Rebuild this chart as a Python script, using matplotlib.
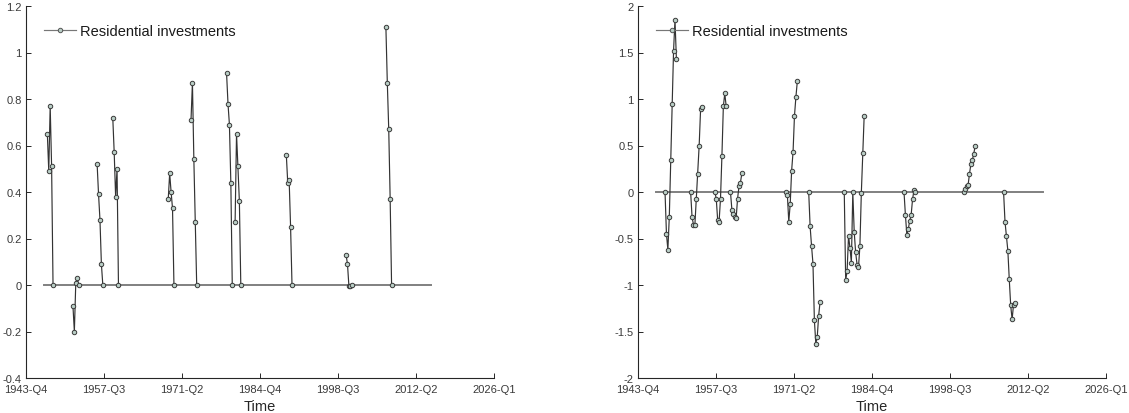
import numpy as np
import matplotlib
matplotlib.use("Agg")
import matplotlib.pyplot as plt

plt.rcParams['font.family'] = ['Liberation Sans', 'DejaVu Sans']

# ---------------- data ----------------
series_name = "Residential investments"
xtick_labels = ["1943-Q4", "1957-Q3", "1971-Q2", "1984-Q4", "1998-Q3", "2012-Q2", "2026-Q1"]
x_start, x_end = 1943.75, 2026.0          # 1943-Q4 .. 2026-Q1
zero_start, zero_end = 1947.0, 2015.0     # sample covered by the zero line

# left panel: episodes (start quarter as decimal year, values)
left_starts = [1947.5, 1952.0, 1956.25, 1959.0, 1968.75, 1972.75,
               1979.0, 1980.5, 1989.5, 2000.0, 2007.0]
left_values = [
    [0.65, 0.49, 0.77, 0.51, 0.0],
    [-0.09, -0.20, 0.01, 0.03, 0.0],
    [0.52, 0.39, 0.28, 0.09, 0.0],
    [0.72, 0.57, 0.38, 0.50, 0.0],
    [0.37, 0.48, 0.40, 0.33, 0.0],
    [0.71, 0.87, 0.54, 0.27, 0.0],
    [0.91, 0.78, 0.69, 0.44, 0.0],
    [0.27, 0.65, 0.51, 0.36, 0.0],
    [0.56, 0.44, 0.45, 0.25, 0.0],
    [0.13, 0.09, -0.005, -0.004, 0.0],
    [1.11, 0.87, 0.67, 0.37, 0.0],
]
left_yticks = [-0.4, -0.2, 0, 0.2, 0.4, 0.6, 0.8, 1, 1.2]

# right panel: episodes
right_starts = [1948.5, 1953.0, 1957.25, 1960.0, 1969.75, 1973.75,
                1980.0, 1981.5, 1990.5, 2001.0, 2008.0]
right_values = [
    [0.0, -0.45, -0.62, -0.27, 0.34, 0.95, 1.52, 1.85, 1.43],
    [0.0, -0.27, -0.35, -0.35, -0.07, 0.19, 0.50, 0.89, 0.91],
    [0.0, -0.07, -0.30, -0.32, -0.07, 0.39, 0.92, 1.06, 0.92],
    [0.0, -0.19, -0.24, -0.27, -0.28, -0.07, 0.06, 0.10, 0.20],
    [0.0, -0.03, -0.32, -0.13, 0.23, 0.43, 0.82, 1.02, 1.19],
    [0.0, -0.37, -0.58, -0.77, -1.38, -1.63, -1.56, -1.33, -1.18],
    [0.0, -0.95, -0.85, -0.47, -0.60, -0.76],
    [0.0, -0.43, -0.65, -0.78, -0.81, -0.58, -0.01, 0.42, 0.82],
    [0.0, -0.25, -0.46, -0.40, -0.31, -0.25, -0.08, 0.02, 0.0],
    [0.0, 0.03, 0.06, 0.07, 0.19, 0.30, 0.34, 0.41, 0.49],
    [0.0, -0.32, -0.47, -0.63, -0.94, -1.22, -1.37, -1.21, -1.19],
]
right_yticks = [-2, -1.5, -1, -0.5, 0, 0.5, 1, 1.5, 2]


def build_series(starts, values):
    n = int(round((zero_end - zero_start) * 4)) + 1
    x = zero_start + np.arange(n) / 4.0
    y = np.full(n, np.nan)
    for s, vals in zip(starts, values):
        i0 = int(round((s - zero_start) * 4))
        y[i0:i0 + len(vals)] = vals
    return x, y


def fmt(v):
    return f"{v:g}"


fig = plt.figure(figsize=(11.29, 4.14), dpi=100)
W, H = 1129, 414
axes_px = [(26, 494), (638, 1106)]
bottom_px, top_px = 379, 7

dark = '#262626'
tickc = '#3a3a3a'
for (lpx, rpx), starts, values, yticks in [
        (axes_px[0], left_starts, left_values, left_yticks),
        (axes_px[1], right_starts, right_values, right_yticks)]:
    ax = fig.add_axes([lpx / W, 1 - bottom_px / H, (rpx - lpx) / W, (bottom_px - top_px) / H])
    x, y = build_series(starts, values)
    ax.plot(x, np.zeros_like(x), color='#808080', lw=1.4, zorder=2)
    ax.plot(x, y, '-o', color='#333333', lw=0.85, ms=3.2,
            mec='#3a3a3a', mfc='#b9cec6', mew=0.7, zorder=3, label=series_name)
    ax.set_xlim(x_start, x_end)
    ax.set_ylim(yticks[0], yticks[-1])
    xt = np.linspace(x_start, x_end, len(xtick_labels))
    ax.set_xticks(xt)
    ax.set_xticklabels(xtick_labels)
    ax.set_yticks(yticks)
    ax.set_yticklabels([fmt(v) for v in yticks])
    for side in ['top', 'right']:
        ax.spines[side].set_visible(False)
    for side in ['left', 'bottom']:
        ax.spines[side].set_color(dark)
        ax.spines[side].set_linewidth(0.8)
    ax.tick_params(direction='in', length=3.5, width=0.7, color=dark,
                   labelcolor=tickc, labelsize=8)
    ax.tick_params(axis='x', pad=4.5)
    ax.tick_params(axis='y', pad=3)
    ax.set_xlabel('Time', fontsize=10.5, color=dark, labelpad=3.5)
    leg = ax.legend(loc='upper left', frameon=False, fontsize=10.5,
                    handlelength=2.2, handletextpad=0.25,
                    bbox_to_anchor=(0.02, 0.975), borderaxespad=0.2)
    for h in leg.legend_handles:
        h.set_color('#777777')
        h.set_markeredgecolor('#555555')
    for t in leg.get_texts():
        t.set_color('#1a1a1a')

fig.savefig('out.png', dpi=100)
